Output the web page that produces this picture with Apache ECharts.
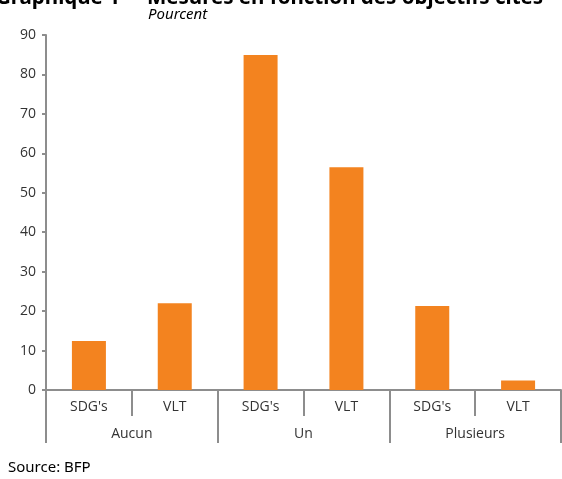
<!DOCTYPE html>
<html>
<head>
<meta charset="utf-8">
<script src="https://cdn.jsdelivr.net/npm/echarts@6/dist/echarts.min.js"></script>
<style>
  html, body { margin: 0; padding: 0; background: #fff; }
  #chart { width: 562px; height: 479px; }
</style>
</head>
<body>
<div id="chart"></div>
<script>
// Sub-categories (inner axis) and groups (outer axis)
const subCategories = ["SDG's", "VLT", "SDG's", "VLT", "SDG's", "VLT"];
const groups = ["Aucun", "Un", "Plusieurs"];
// Share of measures, in percent
const values = [12.4, 22.0, 84.9, 56.5, 21.3, 2.4];
const yTicks = { min: 0, max: 90, interval: 10 };

const axisGray = '#8d8d8d';
const textColor = '#333333';
const barColor = '#F3831F';
const labelFont = 'Open Sans';
const labelSize = 14;

const chart = echarts.init(document.getElementById('chart'), null, { renderer: 'canvas' });

chart.setOption({
  animation: false,
  backgroundColor: '#ffffff',
  grid: { left: 46, right: 1, top: 35, bottom: 89, containLabel: false },
  graphic: [
    {
      type: 'text', left: -4, top: -12,
      style: { text: 'Graphique 1', font: 'bold 20.5px "Noto Sans"', fill: '#000' }
    },
    {
      type: 'text', left: 147, top: -12,
      style: { text: 'Mesures en fonction des objectifs cités', font: 'bold 20.5px "Noto Sans"', fill: '#000' }
    },
    {
      type: 'text', left: 148, top: 7,
      style: { text: 'Pourcent', font: 'italic 15px "Noto Sans"', fill: '#000' }
    },
    {
      type: 'text', left: 8, top: 460,
      style: { text: 'Source: BFP', font: '15px "Noto Sans"', fill: '#000' }
    }
  ],
  xAxis: [
    {
      type: 'category',
      data: subCategories,
      position: 'bottom',
      boundaryGap: true,
      axisLine: { show: true, lineStyle: { color: axisGray, width: 2 } },
      axisTick: { show: true, interval: 0, length: 26, lineStyle: { color: axisGray, width: 2 } },
      axisLabel: { interval: 0, margin: 10, color: textColor, fontFamily: labelFont, fontSize: labelSize }
    },
    {
      type: 'category',
      data: groups,
      position: 'bottom',
      offset: 0,
      boundaryGap: true,
      axisLine: { show: false },
      axisTick: { show: true, interval: 0, length: 53, lineStyle: { color: axisGray, width: 2 } },
      axisLabel: { interval: 0, margin: 37, color: textColor, fontFamily: labelFont, fontSize: labelSize }
    }
  ],
  yAxis: {
    type: 'value',
    min: yTicks.min,
    max: yTicks.max,
    interval: yTicks.interval,
    axisLine: { show: true, lineStyle: { color: axisGray, width: 2 } },
    axisTick: { show: true, length: 4, lineStyle: { color: axisGray, width: 2 } },
    splitLine: { show: false },
    axisLabel: { margin: 10, color: textColor, fontFamily: labelFont, fontSize: labelSize }
  },
  series: [
    {
      type: 'bar',
      xAxisIndex: 0,
      data: values,
      barWidth: 34,
      itemStyle: { color: barColor },
      silent: true
    }
  ]
});
</script>
</body>
</html>
